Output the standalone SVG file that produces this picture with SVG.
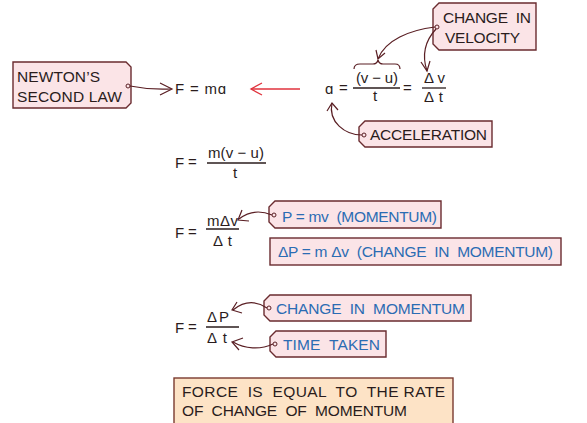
<svg xmlns="http://www.w3.org/2000/svg" width="587" height="423" viewBox="0 0 587 423">
<style>
text{font-family:"Liberation Sans",Arial,sans-serif;fill:#2a1c1c;font-size:15.5px;white-space:pre}
.eq{font-size:15px}
.blue{fill:#2b6cb3}
.tag{fill:#fbe4e7;stroke:#6a2b2f;stroke-width:1.4}
.ora{fill:#fde3c6;stroke:#7a3a30;stroke-width:1.4}
.con{fill:none;stroke:#5a1f24;stroke-width:1.2}
.bar{stroke:#2a1c1c;stroke-width:1.3}
.dot{fill:#fbe4e7;stroke:#5a1f24;stroke-width:1}
</style>
<rect width="587" height="423" fill="#ffffff"/>

<g id="newton">
<path class="tag" d="M13,62 H126 L131,67 V103 L126,108 H13 Z"/>
<text x="17" y="82" textLength="83">NEWTON’S</text>
<text x="17" y="102" textLength="105">SECOND LAW</text>
<circle class="dot" cx="128" cy="86" r="2"/>
</g>

<g id="fma">
<text class="eq" x="175" y="94" textLength="51">F = mɑ</text>
</g>

<g id="aeq">
<text class="eq" x="325" y="94">ɑ</text>
<text class="eq" x="339" y="93">=</text>
<text class="eq" x="356" y="83" textLength="42">(v − u)</text>
<line class="bar" x1="353" y1="88" x2="400" y2="88"/>
<text class="eq" x="373" y="101">t</text>
<text class="eq" x="403" y="93">=</text>
<text class="eq" x="424" y="83" textLength="21">Δv</text>
<line class="bar" x1="422" y1="88" x2="446" y2="88"/>
<text class="eq" x="424" y="102" textLength="19">Δt</text>
<path class="con" d="M354,69 Q354,64 360,64 H373 Q377,64 378,60 Q379,64 383,64 H395 Q400,64 400,69"/>
</g>

<g id="velocity">
<path class="tag" d="M439,3 H536 V50 H439 L433,44 V9 Z"/>
<text x="443" y="23" textLength="88">CHANGE  IN</text>
<text x="445" y="43" textLength="75">VELOCITY</text>
<circle class="dot" cx="437" cy="27" r="2"/>
</g>

<g id="acceleration">
<path class="tag" d="M365,121 H492 V147 H365 L359,141 V127 Z"/>
<text x="370" y="140" textLength="117">ACCELERATION</text>
<circle class="dot" cx="364" cy="135" r="2"/>
</g>

<g id="feq1">
<text class="eq" x="175" y="168">F</text>
<text class="eq" x="188" y="167">=</text>
<text class="eq" x="208" y="158" textLength="56">m(v − u)</text>
<line class="bar" x1="207" y1="163" x2="266" y2="163"/>
<text class="eq" x="233" y="178">t</text>
</g>

<g id="feq2">
<text class="eq" x="175" y="238">F</text>
<text class="eq" x="188" y="237">=</text>
<text class="eq" x="207" y="226" textLength="31">mΔv</text>
<line class="bar" x1="206" y1="229" x2="239" y2="229"/>
<text class="eq" x="213" y="246" textLength="19">Δt</text>
</g>

<g id="momentum">
<path class="tag" d="M275,201 H441 V228 H275 L269,222 V207 Z"/>
<text class="blue" x="282" y="222" textLength="155">P = mv  (MOMENTUM)</text>
<circle class="dot" cx="274" cy="215" r="2"/>
</g>

<g id="dmomentum">
<rect class="tag" x="270" y="238" width="291" height="27"/>
<text class="blue" x="278" y="257" textLength="275">ΔP = m Δv  (CHANGE  IN  MOMENTUM)</text>
</g>

<g id="feq3">
<text class="eq" x="175" y="333">F</text>
<text class="eq" x="188" y="332">=</text>
<text class="eq" x="207" y="322" textLength="22">ΔP</text>
<line class="bar" x1="206" y1="327" x2="239" y2="327"/>
<text class="eq" x="207" y="343" textLength="20">Δt</text>
</g>

<g id="changemom">
<path class="tag" d="M270,295 H471 V321 H270 L264,315 V301 Z"/>
<text class="blue" x="276" y="314" textLength="189">CHANGE  IN  MOMENTUM</text>
<circle class="dot" cx="269" cy="308" r="2"/>
</g>

<g id="timetaken">
<path class="tag" d="M276,331 H386 V357 H276 L270,351 V337 Z"/>
<text class="blue" x="283" y="350" textLength="97">TIME  TAKEN</text>
<circle class="dot" cx="275" cy="344" r="2"/>
</g>

<g id="summary">
<rect class="ora" x="174" y="378" width="279" height="46"/>
<text x="182" y="397" textLength="263">FORCE  IS  EQUAL  TO  THE RATE</text>
<text x="182" y="416" textLength="225">OF  CHANGE  OF  MOMENTUM</text>
</g>

<g id="connectors">
<path class="con" d="M130,86 Q150,90 171,89"/>
<path class="con" d="M160,83 L172,89 L160,95"/>
<path d="M300,89 H251" fill="none" stroke="#e0323c" stroke-width="1.3"/>
<path d="M262,83 L251,89 L262,95" fill="none" stroke="#e0323c" stroke-width="1.3"/>
<path class="con" d="M435,27 C410,30 385,40 378,59"/>
<path class="con" d="M376,50 L378,59 L385,53"/>
<path class="con" d="M436,29 C424,42 422,56 427,71"/>
<path class="con" d="M421,62 L427,71 L430,61"/>
<path class="con" d="M362,135 C345,135 328,122 332,103"/>
<path class="con" d="M327,111 L332,103 L338,110"/>
<path class="con" d="M272,215 C260,210 248,212 239,219"/>
<path class="con" d="M242,210 L238,220 L249,221"/>
<path class="con" d="M267,308 C255,300 243,302 233,310"/>
<path class="con" d="M237,302 L232,310 L242,313"/>
<path class="con" d="M273,344 C260,350 245,349 233,342"/>
<path class="con" d="M243,338 L232,342 L239,350"/>
</g>
</svg>
